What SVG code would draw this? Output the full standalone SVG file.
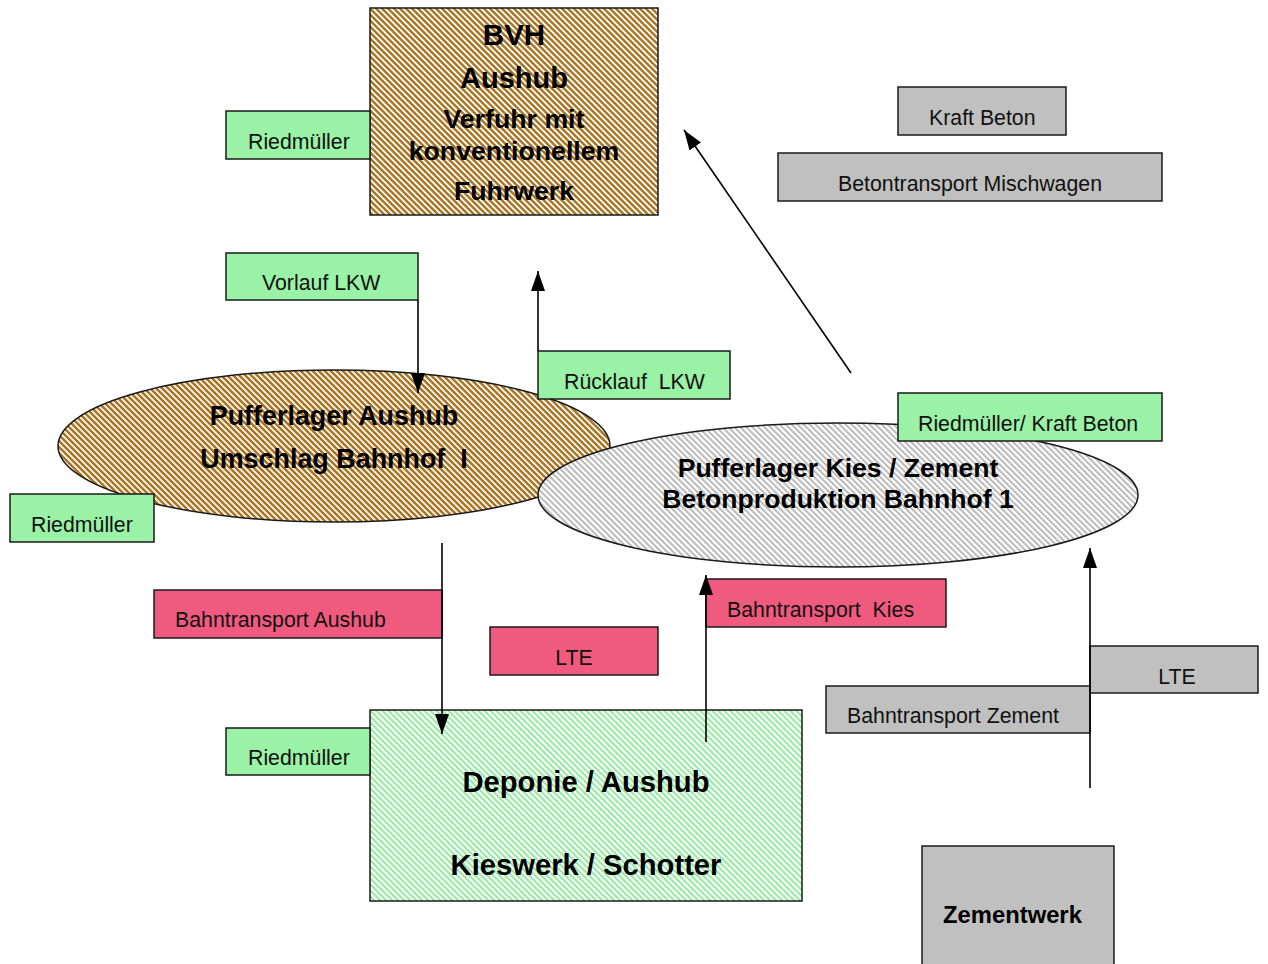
<svg xmlns="http://www.w3.org/2000/svg" width="1268" height="964" viewBox="0 0 1268 964">
<style>
.box{stroke:#1a1a1a;stroke-width:1.5}
.g{fill:#9af2a6}
.p{fill:#f05a7e}
.gr{fill:#c0c0c0}
.lbl{font-family:"Liberation Sans",Arial,sans-serif;font-size:21.3px;fill:#111}
.ttl{font-family:"Liberation Sans",Arial,sans-serif;font-weight:bold;fill:#000}
.con{stroke:#000;stroke-width:1.6;fill:none;marker-end:url(#arr)}
</style>
<defs>
<pattern id="brown" width="4.24" height="5" patternUnits="userSpaceOnUse" patternTransform="rotate(-45)">
<rect width="4.24" height="5" fill="#ffffff"/>
<rect width="2.5" height="5" fill="#ab7522"/>
</pattern>
<pattern id="green" width="4.24" height="5" patternUnits="userSpaceOnUse" patternTransform="rotate(-45)">
<rect width="4.24" height="5" fill="#ffffff"/>
<rect width="2.2" height="5" fill="#9aeaa6"/>
</pattern>
<pattern id="gray" width="4.24" height="5" patternUnits="userSpaceOnUse" patternTransform="rotate(-45)">
<rect width="4.24" height="5" fill="#ffffff"/>
<rect width="2" height="5" fill="#b8b8b8"/>
</pattern>
<marker id="arr" viewBox="0 0 20 14" markerWidth="20" markerHeight="14" refX="20" refY="7" orient="auto" markerUnits="userSpaceOnUse">
<path d="M0,0 L20,7 L0,14 z" fill="#000"/>
</marker>
</defs>
<rect width="1268" height="964" fill="#ffffff"/>

<g id="bvh">
<rect class="box" x="370" y="8" width="288" height="207" fill="url(#brown)"/>
<text class="ttl" x="514" y="45" font-size="29.5" text-anchor="middle">BVH</text>
<text class="ttl" x="514" y="88" font-size="29" text-anchor="middle">Aushub</text>
<text class="ttl" x="514" y="128" font-size="26.7" text-anchor="middle">Verfuhr mit</text>
<text class="ttl" x="514" y="160" font-size="26.7" text-anchor="middle">konventionellem</text>
<text class="ttl" x="514" y="200" font-size="26.7" text-anchor="middle">Fuhrwerk</text>
</g>
<g id="riedmueller-top">
<rect class="box g" x="226" y="111" width="144" height="48"/>
<text class="lbl" x="248" y="149">Riedmüller</text>
</g>
<g id="kraft-beton">
<rect class="box gr" x="898" y="87" width="168" height="48"/>
<text class="lbl" x="929" y="125">Kraft Beton</text>
</g>
<g id="betontransport">
<rect class="box gr" x="778" y="153" width="384" height="48"/>
<text class="lbl" x="838" y="191">Betontransport Mischwagen</text>
</g>
<g id="vorlauf">
<rect class="box g" x="226" y="253" width="192" height="47"/>
<text class="lbl" x="262" y="290">Vorlauf LKW</text>
</g>
<g id="pufferlager-aushub">
<ellipse class="box" cx="334" cy="446" rx="276" ry="76" fill="url(#brown)"/>
<text class="ttl" x="334" y="425" font-size="26.9" text-anchor="middle">Pufferlager Aushub</text>
<text class="ttl" x="334" y="468" font-size="26.9" text-anchor="middle" xml:space="preserve">Umschlag Bahnhof  I</text>
</g>
<g id="ruecklauf">
<rect class="box g" x="538" y="351" width="192" height="48"/>
<text class="lbl" x="564" y="389" xml:space="preserve">Rücklauf  LKW</text>
</g>
<g id="riedmueller-left">
<rect class="box g" x="10" y="494" width="144" height="48"/>
<text class="lbl" x="31" y="532">Riedmüller</text>
</g>
<g id="pufferlager-kies">
<ellipse class="box" cx="838" cy="495" rx="300" ry="72" fill="url(#gray)"/>
<text class="ttl" x="838" y="477" font-size="26.6" text-anchor="middle">Pufferlager Kies / Zement</text>
<text class="ttl" x="838" y="508" font-size="26.6" text-anchor="middle">Betonproduktion Bahnhof 1</text>
</g>
<g id="riedmueller-kraft">
<rect class="box g" x="898" y="393" width="264" height="48"/>
<text class="lbl" x="918" y="431">Riedmüller/ Kraft Beton</text>
</g>
<g id="bahntransport-aushub">
<rect class="box p" x="154" y="590" width="288" height="48"/>
<text class="lbl" x="175" y="627">Bahntransport Aushub</text>
</g>
<g id="lte-pink">
<rect class="box p" x="490" y="627" width="168" height="48"/>
<text class="lbl" x="574" y="665" text-anchor="middle">LTE</text>
</g>
<g id="bahntransport-kies">
<rect class="box p" x="706" y="579" width="240" height="48"/>
<text class="lbl" x="727" y="617" xml:space="preserve">Bahntransport  Kies</text>
</g>
<g id="deponie">
<rect class="box" x="370" y="710" width="432" height="191" fill="url(#green)"/>
<text class="ttl" x="586" y="792" font-size="29.2" text-anchor="middle">Deponie / Aushub</text>
<text class="ttl" x="586" y="875" font-size="29.2" text-anchor="middle">Kieswerk / Schotter</text>
</g>
<g id="riedmueller-bottom">
<rect class="box g" x="226" y="728" width="144" height="47"/>
<text class="lbl" x="248" y="765">Riedmüller</text>
</g>
<g id="lte-gray">
<rect class="box gr" x="1090" y="646" width="168" height="47"/>
<text class="lbl" x="1177" y="684" text-anchor="middle">LTE</text>
</g>
<g id="bahntransport-zement">
<rect class="box gr" x="826" y="686" width="264" height="47"/>
<text class="lbl" x="847" y="723">Bahntransport Zement</text>
</g>
<g id="zementwerk">
<rect class="box gr" x="922" y="846" width="192" height="130"/>
<text class="ttl" x="943" y="923" font-size="23.8">Zementwerk</text>
</g>

<g id="connectors">
<line class="con" x1="418" y1="300" x2="418" y2="393"/>
<line class="con" x1="538" y1="351" x2="538" y2="271"/>
<line class="con" x1="851" y1="373" x2="684" y2="130"/>
<line class="con" x1="442" y1="543" x2="442" y2="734"/>
<line class="con" x1="706" y1="742" x2="706" y2="575"/>
<line class="con" x1="1090" y1="788" x2="1090" y2="548"/>
</g>
</svg>
